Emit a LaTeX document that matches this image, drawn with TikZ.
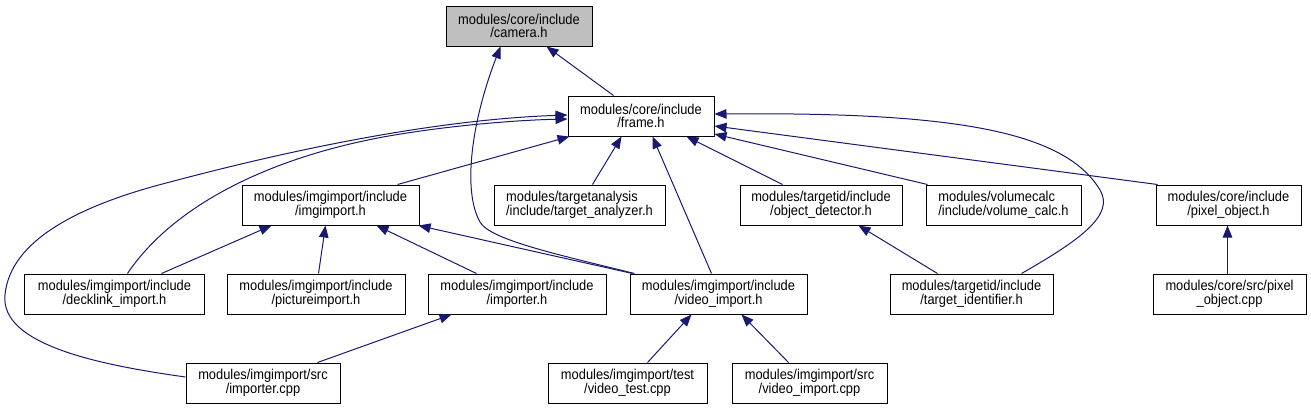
\documentclass[tikz,border=0pt]{standalone}
\usepackage{fontspec}
\setmainfont{Liberation Sans}[FakeStretch=0.9]
\usetikzlibrary{arrows.meta}
\definecolor{edgecol}{HTML}{191970}
\definecolor{fillgray}{HTML}{BFBFBF}
\begin{document}
\begin{tikzpicture}[x=1bp,y=-1bp,
  box/.style={draw=black, fill=white, line width=1bp, inner sep=0pt, align=center,
    minimum height=40bp, font=\fontsize{14.3bp}{13.6bp}\selectfont},
  edge/.style={draw=edgecol, line width=1bp, -{Triangle[length=12bp,width=9.5bp]}}]
\useasboundingbox (0,0) rectangle (1311,409);
% nodes
\node[box, fill=fillgray, minimum width=146bp] (camera) at (519,26) {modules/core/include\\/camera.h};
\node[box, minimum width=146bp] (frame) at (641,116) {modules/core/include\\/frame.h};
\node[box, minimum width=177bp] (imgimport) at (330.5,205) {modules/imgimport/include\\/imgimport.h};
\node[box, align=left, minimum width=171bp] (targetanalyzer) at (579.5,205) {modules/targetanalysis\\/include/target\_analyzer.h};
\node[box, minimum width=162bp] (objdet) at (821,205) {modules/targetid/include\\/object\_detector.h};
\node[box, align=left, minimum width=155bp] (volcalc) at (1003.5,205) {modules/volumecalc\\/include/volume\_calc.h};
\node[box, minimum width=145bp] (pixobj) at (1228.5,205) {modules/core/include\\/pixel\_object.h};
\node[box, minimum width=179bp] (decklink) at (114.5,294) {modules/imgimport/include\\/decklink\_import.h};
\node[box, minimum width=178bp] (pictimp) at (316,294) {modules/imgimport/include\\/pictureimport.h};
\node[box, minimum width=178bp] (importerh) at (517,294) {modules/imgimport/include\\/importer.h};
\node[box, minimum width=177bp] (videoimp) at (718.5,294) {modules/imgimport/include\\/video\_import.h};
\node[box, minimum width=163bp] (targetid) at (971.5,294) {modules/targetid/include\\/target\_identifier.h};
\node[box, minimum width=153bp] (pixcpp) at (1229.5,294) {modules/core/src/pixel\\\_object.cpp};
\node[box, minimum width=154bp] (importercpp) at (263,383) {modules/imgimport/src\\/importer.cpp};
\node[box, minimum width=159bp] (videotest) at (627.5,383) {modules/imgimport/test\\/video\_test.cpp};
\node[box, minimum width=155bp] (videocpp) at (809.5,383) {modules/imgimport/src\\/video\_import.cpp};
% edges
\draw[edge] ([xshift=46bp]frame.north west) -- ([xshift=101bp]camera.south west);
\draw[edge] ([xshift=5bp]videoimp.north west) .. controls (560,255) and (490,240) .. (480,222) .. controls (462,190) and (472,120) .. ([xshift=55bp]camera.south west);
\draw[edge] ([xshift=156bp]imgimport.north west) -- ([xshift=2bp]frame.south west);
\draw[edge] ([xshift=99bp]targetanalyzer.north west) -- ([xshift=54bp]frame.south west);
\draw[edge] ([xshift=82bp]videoimp.north west) -- ([xshift=85bp]frame.south west);
\draw[edge] ([xshift=43bp]objdet.north west) -- ([xshift=119bp]frame.south west);
\draw[edge] ([xshift=2bp]volcalc.north west) -- ([yshift=-18bp]frame.east);
\draw[edge] ([xshift=2bp]pixobj.north west) -- ([yshift=-10bp]frame.east);
\draw[edge] ([xshift=132bp]targetid.north west) .. controls (1080,240) and (1115,215) .. (1100,190) .. controls (1064,130) and (950,112) .. ([yshift=2bp]frame.east);
\draw[edge] ([xshift=103bp]decklink.north west) .. controls (170,210) and (260,160) .. (383,137) .. controls (450,125) and (520,120) .. ([yshift=-3bp]frame.west);
\draw[edge] ([yshift=6bp]importercpp.west) .. controls (100,365) and (0,345) .. (5,295) .. controls (10,240) and (80,205) .. (170,182) .. controls (260,158) and (420,120) .. ([yshift=1bp]frame.west);
\draw[edge] ([xshift=137bp]decklink.north west) -- ([xshift=30bp]imgimport.south west);
\draw[edge] ([xshift=92bp]pictimp.north west) -- ([xshift=84bp]imgimport.south west);
\draw[edge] ([xshift=49bp]importerh.north west) -- ([xshift=135bp]imgimport.south west);
\draw[edge] ([xshift=3bp]videoimp.north west) -- ([xshift=-1bp]imgimport.south east);
\draw[edge] ([xshift=132bp]importercpp.north west) -- ([xshift=24bp]importerh.south west);
\draw[edge] ([xshift=100bp]videotest.north west) -- ([xshift=62bp]videoimp.south west);
\draw[edge] ([xshift=57bp]videocpp.north west) -- ([xshift=112bp]videoimp.south west);
\draw[edge] ([xshift=48bp]targetid.north west) -- ([xshift=119bp]objdet.south west);
\draw[edge] ([xshift=75bp]pixcpp.north west) -- ([xshift=72bp]pixobj.south west);
\end{tikzpicture}
\end{document}
